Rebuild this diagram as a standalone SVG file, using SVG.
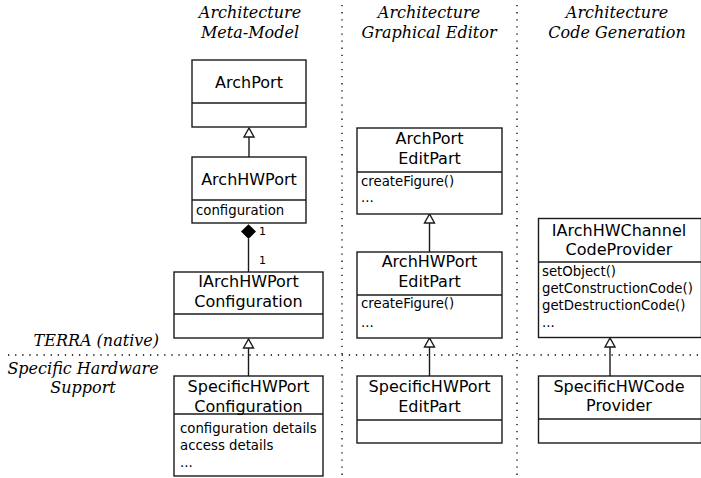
<svg xmlns="http://www.w3.org/2000/svg" width="701" height="478" viewBox="0 0 701 478">
<defs>
<style>
.box{fill:#fff;stroke:#1a1a1a;stroke-width:1.4}
.div{stroke:#1a1a1a;stroke-width:1.3}
.t{font-family:"DejaVu Sans",sans-serif;font-size:16px;fill:#000;text-anchor:middle}
.a{font-family:"DejaVu Sans",sans-serif;font-size:13.3px;fill:#000}
.h{font-family:"DejaVu Serif",serif;font-style:italic;font-size:16px;fill:#000;text-anchor:middle}
.m{font-family:"DejaVu Sans",sans-serif;font-size:11px;fill:#000}
.dot{stroke:#000;stroke-width:1.3;stroke-dasharray:1.3 5.8;fill:none}
.ln{stroke:#1a1a1a;stroke-width:1.4;fill:none}
.tri{fill:#fff;stroke:#1a1a1a;stroke-width:1.4}
</style>
</defs>
<rect width="701" height="478" fill="#fff"/>
<g id="separators">
<line class="dot" x1="342" y1="5" x2="342" y2="478"/>
<line class="dot" x1="517" y1="5" x2="517" y2="478"/>
<line class="dot" x1="8" y1="355" x2="701" y2="355"/>
</g>
<g id="headings">
<text class="h" x="250" y="18">Architecture</text>
<text class="h" x="250" y="38">Meta-Model</text>
<text class="h" x="429" y="18">Architecture</text>
<text class="h" x="429" y="38">Graphical Editor</text>
<text class="h" x="617" y="18">Architecture</text>
<text class="h" x="617" y="38">Code Generation</text>
<text class="h" x="159" y="346" style="text-anchor:end">TERRA (native)</text>
<text class="h" x="83" y="374">Specific Hardware</text>
<text class="h" x="83" y="393">Support</text>
</g>
<g id="connectors">
<line class="ln" x1="249" y1="137" x2="249" y2="157"/>
<polygon class="tri" points="249,128 244,137 254,137"/>
<line class="ln" x1="248.5" y1="239" x2="248.5" y2="272"/>
<polygon points="248.5,224.3 256,231.6 248.5,239 241,231.6" fill="#000"/>
<text class="m" x="259" y="235">1</text>
<text class="m" x="259" y="264">1</text>
<line class="ln" x1="248.5" y1="348" x2="248.5" y2="376"/>
<polygon class="tri" points="248.5,339 243.5,348 253.5,348"/>
<line class="ln" x1="429.5" y1="223" x2="429.5" y2="252"/>
<polygon class="tri" points="429.5,214 424.5,223 434.5,223"/>
<line class="ln" x1="429.5" y1="347" x2="429.5" y2="376"/>
<polygon class="tri" points="429.5,338 424.5,347 434.5,347"/>
<line class="ln" x1="610" y1="347" x2="610" y2="376"/>
<polygon class="tri" points="610,338 605,347 615,347"/>
</g>
<g id="ArchPort">
<rect class="box" x="192" y="60" width="114" height="67"/>
<line class="div" x1="192" y1="103" x2="306" y2="103"/>
<text class="t" x="249" y="88">ArchPort</text>
</g>
<g id="ArchHWPort">
<rect class="box" x="192" y="157" width="114" height="66"/>
<line class="div" x1="192" y1="200" x2="306" y2="200"/>
<text class="t" x="249" y="185">ArchHWPort</text>
<text class="a" x="196" y="215">configuration</text>
</g>
<g id="IArchHWPortConfiguration">
<rect class="box" x="174" y="272" width="149" height="66"/>
<line class="div" x1="174" y1="314" x2="323" y2="314"/>
<text class="t" x="248.5" y="287">IArchHWPort</text>
<text class="t" x="248.5" y="307">Configuration</text>
</g>
<g id="SpecificHWPortConfiguration">
<rect class="box" x="174" y="376" width="149" height="100"/>
<line class="div" x1="174" y1="414" x2="323" y2="414"/>
<text class="t" x="248.5" y="392">SpecificHWPort</text>
<text class="t" x="248.5" y="412">Configuration</text>
<text class="a" x="180" y="433">configuration details</text>
<text class="a" x="180" y="450">access details</text>
<text class="a" x="180" y="467">...</text>
</g>
<g id="ArchPortEditPart">
<rect class="box" x="357" y="128" width="145" height="86"/>
<line class="div" x1="357" y1="172" x2="502" y2="172"/>
<text class="t" x="429.5" y="144">ArchPort</text>
<text class="t" x="429.5" y="164">EditPart</text>
<text class="a" x="361" y="186">createFigure()</text>
<text class="a" x="361" y="202">...</text>
</g>
<g id="ArchHWPortEditPart">
<rect class="box" x="357" y="252" width="145" height="86"/>
<line class="div" x1="357" y1="295" x2="502" y2="295"/>
<text class="t" x="429.5" y="267">ArchHWPort</text>
<text class="t" x="429.5" y="287">EditPart</text>
<text class="a" x="361" y="308">createFigure()</text>
<text class="a" x="361" y="327">...</text>
</g>
<g id="SpecificHWPortEditPart">
<rect class="box" x="357" y="376" width="145" height="67"/>
<line class="div" x1="357" y1="420" x2="502" y2="420"/>
<text class="t" x="429.5" y="392">SpecificHWPort</text>
<text class="t" x="429.5" y="412">EditPart</text>
</g>
<g id="IArchHWChannelCodeProvider">
<rect class="box" x="538.5" y="218.5" width="163" height="119"/>
<line class="div" x1="538.5" y1="262" x2="701" y2="262"/>
<text class="t" x="619" y="236">IArchHWChannel</text>
<text class="t" x="619" y="255">CodeProvider</text>
<text class="a" x="542" y="276">setObject()</text>
<text class="a" x="542" y="293">getConstructionCode()</text>
<text class="a" x="542" y="310">getDestructionCode()</text>
<text class="a" x="542" y="327">...</text>
</g>
<g id="SpecificHWCodeProvider">
<rect class="box" x="538.5" y="376" width="163" height="67"/>
<line class="div" x1="538.5" y1="419" x2="701" y2="419"/>
<text class="t" x="619" y="392">SpecificHWCode</text>
<text class="t" x="619" y="411">Provider</text>
</g>
</svg>
